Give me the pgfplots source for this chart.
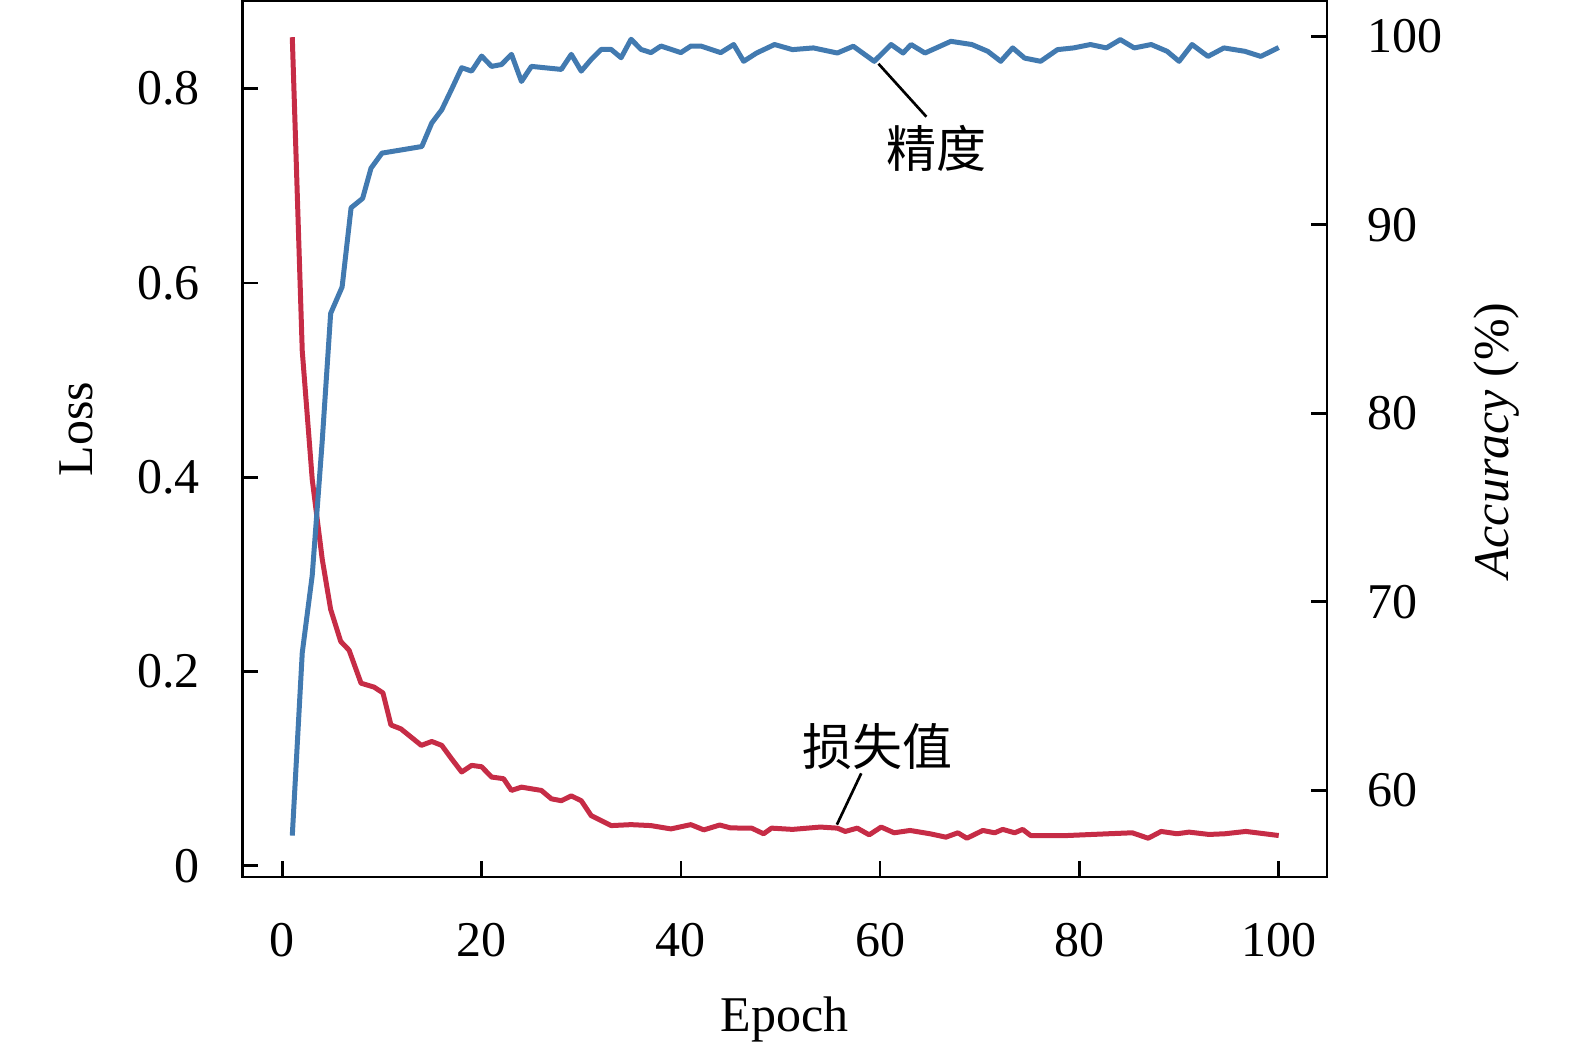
\documentclass[border=0pt]{standalone}
\usepackage{fontspec}
\setmainfont{Liberation Serif}
\newfontfamily\cjk{Noto Sans CJK SC}
\usepackage{pgfplots}
\pgfplotsset{compat=1.18}
\definecolor{lossred}{RGB}{198,44,70}
\definecolor{accblue}{RGB}{66,122,176}
\pgfplotsset{
  common/.style={
    scale only axis, width=325.4pt, height=262.8pt,
    xmin=-4, xmax=104.85,
    /pgf/number format/assume math mode=true,
    tick label style={font=\fontsize{15}{18}\selectfont},
    label style={font=\fontsize{15}{18}\selectfont},
    tick align=inside, major tick length=4.7pt,
    axis line style={line width=0.8pt},
    every tick/.style={line width=0.8pt, black},
  }
}
\begin{document}
\begin{tikzpicture}
\begin{axis}[common,
  ymin=-0.0114, ymax=0.8903,
  ytick={0,0.2,0.4,0.6,0.8},
  xtick={0,20,40,60,80,100},
  xtick pos=bottom, ytick pos=left,
  xticklabel style={yshift=-10.5pt},
  yticklabel style={xshift=-9.3pt},
  xlabel={Epoch},
  xlabel style={at={(axis description cs:0.5,-0.163)}, anchor=center},
  ylabel={Loss},
  ylabel style={at={(axis description cs:-0.153,0.511)}, anchor=center},
]
\coordinate (SW) at (rel axis cs:0,0);
\coordinate (NE) at (rel axis cs:1,1);
\addplot[lossred, line width=1.5pt, line join=round] coordinates {
(1,0.853) (2,0.53) (3,0.398) (4,0.316) (4.85,0.264) (5.86,0.231) (6.7,0.222)
(7.9,0.188) (9.2,0.184) (10.1,0.178) (10.9,0.145) (11.9,0.141) (13.95,0.124)
(15,0.128) (16,0.124) (17,0.110) (18,0.0966) (19,0.1034) (20,0.102) (21,0.0914)
(22.2,0.0897) (23,0.0776) (24,0.081) (26,0.0776) (27,0.069) (28,0.067)
(29,0.072) (30,0.067) (31,0.0517) (33,0.0414) (35,0.0424) (37,0.0414)
(39,0.038) (41,0.0424) (42.3,0.037) (43.9,0.042) (45,0.039) (47.1,0.0388)
(48.3,0.033) (49.1,0.0388) (51.2,0.0375) (54.0,0.0399) (55.7,0.0388)
(56.5,0.0354) (57.7,0.0388) (58.9,0.0319) (60.1,0.0399) (61.4,0.034)
(63.0,0.0364) (65.0,0.033) (66.6,0.0295) (67.8,0.034) (68.7,0.0284)
(70.3,0.0364) (71.5,0.034) (72.3,0.0375) (73.5,0.034) (74.3,0.0375)
(75.1,0.0312) (78.8,0.0312) (82.9,0.033) (85.3,0.034) (86.9,0.0284)
(88.2,0.0354) (89.8,0.033) (91.0,0.0347) (93.0,0.0323) (94.6,0.033)
(96.7,0.0354) (100,0.0312)
};
\draw[line width=0.8pt] (axis cs:58.1,0.0952) -- (axis cs:55.66,0.0424);
\node[font=\cjk\fontsize{15}{18}\selectfont] at (axis cs:59.7,0.123) {损失值};
\end{axis}
\begin{axis}[common,
  ymin=55.41, ymax=101.87,
  ytick={60,70,80,90,100},
  axis x line=none, axis y line*=right,
  yticklabel style={xshift=8.6pt},
  ylabel={{\itshape Accuracy} (\%)},
  ylabel style={at={(axis description cs:1.156,0.498)}, anchor=center},
]
\addplot[accblue, line width=1.5pt, line join=round] coordinates {
(1,57.6) (2,67.3) (3,71.4) (4,78.5) (4.85,85.3) (6.0,86.7) (6.9,90.9)
(8.06,91.4) (8.9,93.0) (10.0,93.8) (14,94.15) (15,95.4) (16,96.1) (17,97.2)
(18,98.33) (19,98.15) (20,98.95) (21,98.4) (22,98.5) (23,99.04) (24,97.6)
(25,98.4) (28,98.24) (29,99.04) (30,98.15) (31,98.77) (32,99.3) (33,99.3)
(34,98.86) (35,99.84) (36,99.3) (37,99.13) (38,99.48) (40,99.13) (41,99.48)
(42,99.48) (44,99.13) (45.3,99.56) (46.3,98.67) (47.6,99.11) (49.4,99.56)
(51.2,99.29) (53.3,99.38) (55.7,99.11) (57.3,99.47) (59.4,98.67) (61.1,99.56)
(62.3,99.11) (63.1,99.56) (64.5,99.11) (67.1,99.73) (69.2,99.56) (70.8,99.2)
(72.1,98.67) (73.3,99.38) (74.5,98.84) (76.1,98.67) (77.8,99.29) (79.4,99.38)
(81.1,99.56) (82.7,99.38) (84.1,99.82) (85.5,99.38) (87.2,99.56) (88.8,99.2)
(90.0,98.67) (91.3,99.56) (92.9,98.93) (94.5,99.38) (96.6,99.2) (98.2,98.93)
(100,99.4)
};
\draw[line width=0.8pt] (axis cs:59.83,98.54) -- (axis cs:64.64,95.73);
\node[font=\cjk\fontsize{15}{18}\selectfont] at (axis cs:65.7,94.03) {精度};
\end{axis}
\pgfresetboundingbox
\path[use as bounding box] ([xshift=-72.75pt,yshift=-51pt]SW) rectangle ([xshift=74.4pt,yshift=0.3pt]NE);
\end{tikzpicture}
\end{document}
